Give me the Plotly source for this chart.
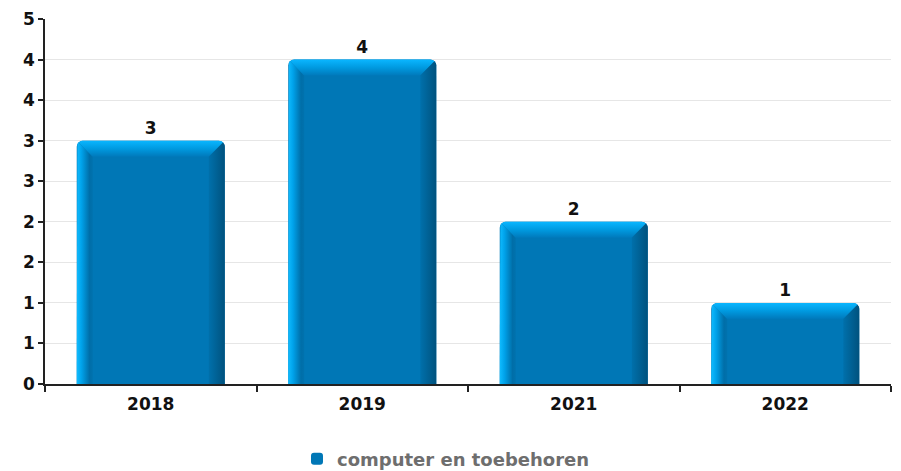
import numpy as np
import plotly.graph_objects as go

# --- data -------------------------------------------------------------
years = ["2018", "2019", "2021", "2022"]
counts = [3, 4, 2, 1]
series_name = "computer en toebehoren"
y_tickvals = [0, 0.5, 1, 1.5, 2, 2.5, 3, 3.5, 4, 4.5]
y_ticktext = ["0", "1", "1", "2", "2", "3", "3", "4", "4", "5"]

# --- geometry ---------------------------------------------------------
W, H = 901, 471
M_L, M_R, M_T, M_B = 45, 10, 19, 87
Y_MAX = 4.5
X_MIN, X_MAX = -0.5, len(years) - 0.5
plot_w = W - M_L - M_R
plot_h = H - M_T - M_B
kx = (X_MAX - X_MIN) / plot_w      # data units per pixel (x)
ky = Y_MAX / plot_h                # data units per pixel (y)

BAR_W = 0.7
BEVEL = 16      # bevel depth in px
RAD = 6         # top corner radius in px

FRONT = "#0077b6"
FONT = "DejaVu Sans"

fig = go.Figure()

fig.add_trace(go.Bar(
    x=list(range(len(years))), y=counts, width=BAR_W,
    name=series_name,
    marker=dict(color=FRONT, line=dict(width=0), cornerradius=RAD),
    text=[str(c) for c in counts], textposition="outside",
    textfont=dict(family=FONT, size=17, color="#111", weight="bold"),
    cliponaxis=False, hoverinfo="x+y",
))


def arc(cx, cy, a0, a1, n=6):
    a = np.radians(np.linspace(a0, a1, n))
    return list(cx + RAD * np.cos(a)), list(cy + RAD * np.sin(a))


def face(xs_px, ys_px, x0, gradient):
    xs = [x0 + px * kx for px in xs_px]
    ys = [py * ky for py in ys_px]
    xs.append(xs[0]); ys.append(ys[0])
    fig.add_trace(go.Scatter(
        x=xs, y=ys, mode="lines", fill="toself",
        line=dict(width=0, color="rgba(0,0,0,0)"),
        fillgradient=gradient, showlegend=False, hoverinfo="skip",
    ))


for i, v in enumerate(counts):
    w_px = BAR_W / kx
    h_px = v / ky
    x0 = i - BAR_W / 2
    d = BEVEL
    # left face
    ax, ay = arc(RAD, h_px - RAD, 180, 135)
    face([0, 0] + ax + [d, d], [0, h_px - RAD] + ay + [h_px - d, 0], x0,
         dict(type="horizontal",
              colorscale=[[0, "#10bcff"], [0.3, "#00a2ea"], [0.8, "#006ea8"], [1, "#0072ae"]]))
    # top face
    ax1, ay1 = arc(RAD, h_px - RAD, 135, 90)
    ax2, ay2 = arc(w_px - RAD, h_px - RAD, 90, 45)
    face(ax1 + ax2 + [w_px - d, d], ay1 + ay2 + [h_px - d, h_px - d], x0,
         dict(type="vertical",
              colorscale=[[0, "#0079bb"], [0.5, "#009ae0"], [1, "#0ab6ff"]]))
    # right face
    ax3, ay3 = arc(w_px - RAD, h_px - RAD, 45, 0)
    face(ax3 + [w_px, w_px - d, w_px - d], ay3 + [0, 0, h_px - d], x0,
         dict(type="horizontal",
              colorscale=[[0, "#0070ab"], [1, "#00527e"]]))

fig.update_layout(
    width=W, height=H,
    margin=dict(l=M_L, r=M_R, t=M_T, b=M_B, pad=0, autoexpand=False),
    paper_bgcolor="white", plot_bgcolor="white",
    font=dict(family=FONT, size=16, color="#111"),
    bargap=0.3,
    showlegend=True,
    legend=dict(orientation="h", x=0.495, xanchor="center", xref="container",
                y=1 - 459 / H, yanchor="middle", yref="container",
                font=dict(family=FONT, size=18, color="#6e6e6e", weight="bold"),
                itemclick=False),
)

fig.update_xaxes(
    range=[X_MIN, X_MAX],
    tickvals=list(range(len(years))), ticktext=years,
    ticks="", showgrid=False, zeroline=False,
    showline=True, linecolor="#222", linewidth=1.5,
    tickfont=dict(family=FONT, size=17, color="#111", weight="bold"),
    ticklabelstandoff=4,
    minor=dict(tickvals=[k - 0.5 for k in range(len(years) + 1)],
               ticks="outside", ticklen=6, tickcolor="#222", tickwidth=1.5,
               showgrid=False),
    automargin=False, fixedrange=True,
)

fig.update_yaxes(
    range=[0, Y_MAX],
    tickvals=y_tickvals, ticktext=y_ticktext,
    ticks="outside", ticklen=5, tickcolor="#222", tickwidth=1.5,
    showgrid=True, gridcolor="#e6e6e6", gridwidth=1,
    zeroline=False, showline=True, linecolor="#222", linewidth=1.5,
    tickfont=dict(family=FONT, size=17, color="#111", weight="bold"),
    automargin=False, fixedrange=True,
)

fig.write_html("out.html")
